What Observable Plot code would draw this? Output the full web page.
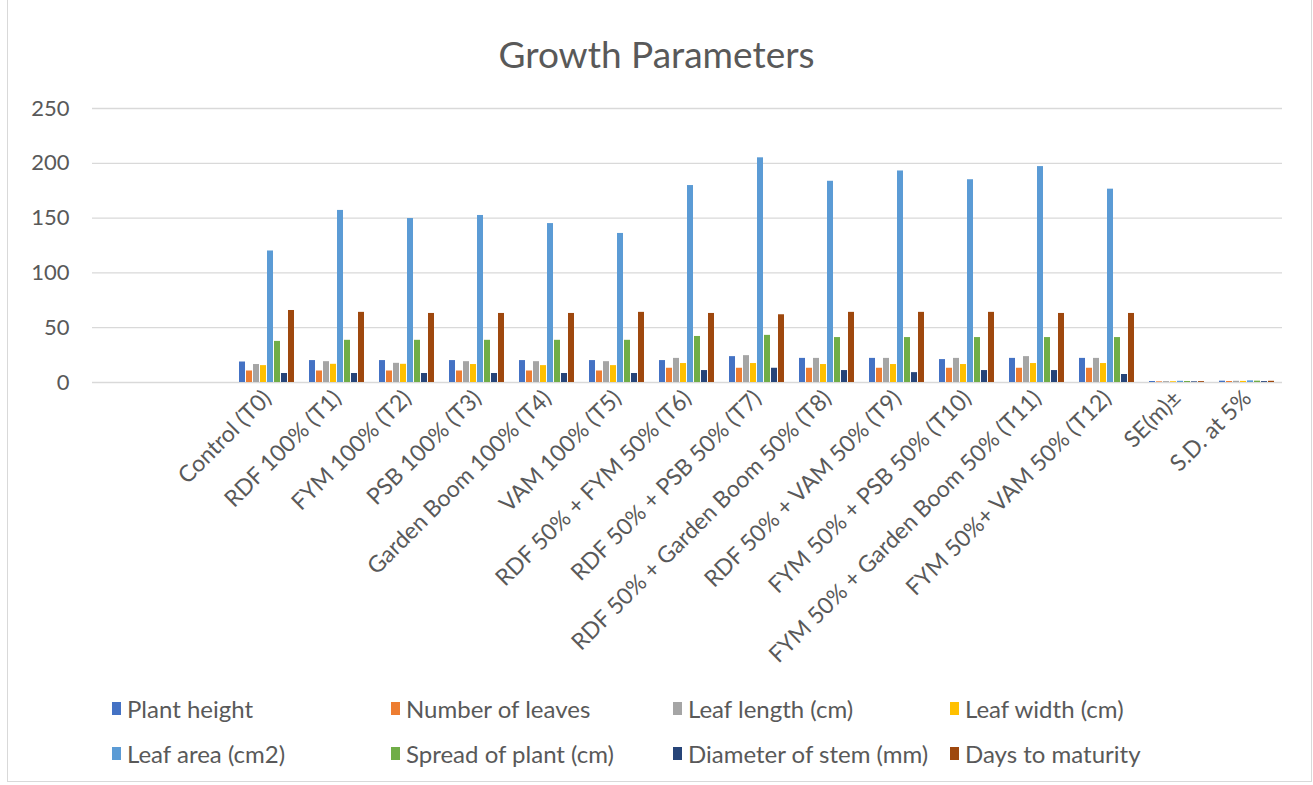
<!DOCTYPE html>
<html><head><meta charset="utf-8">
<script src="https://cdn.jsdelivr.net/npm/d3@7"></script>
<script src="https://cdn.jsdelivr.net/npm/@observablehq/plot@0.6"></script>
<style>
body{margin:0;background:#fff;font-family:Lato,"Open Sans",sans-serif;color:#595959}
#wrap{position:relative;width:1313px;height:785px;overflow:hidden}
#frame{position:absolute;left:7px;top:-2px;width:1305px;height:784px;border:1px solid #d9d9d9;box-sizing:border-box}
#title{position:absolute;left:0;width:1313px;top:32px;text-align:center;font-size:37px;color:#595959;line-height:44px}
#chart{position:absolute;left:0;top:90px}
#legend{position:absolute;left:112px;top:686px;display:grid;grid-template-columns:279px 282px 277px 279px;grid-auto-rows:45px;font-size:24px;color:#595959}
.item{display:flex;align-items:center;white-space:nowrap}
.sw{width:9px;height:13px;margin-right:6px;flex:none}
</style>
</head><body>
<div id="wrap">
<div id="frame"></div>
<div id="title">Growth Parameters</div>
<div id="chart"></div>
<div id="legend"></div>
</div>
<script>
// Categories (two empty slots precede the data, as in the reference)
const categories = ["_blank1","_blank2","Control (T0)","RDF 100% (T1)","FYM 100% (T2)","PSB 100% (T3)","Garden Boom 100% (T4)","VAM 100% (T5)","RDF 50% + FYM 50% (T6)","RDF 50% + PSB 50% (T7)","RDF 50% + Garden Boom 50% (T8)","RDF 50% + VAM 50% (T9)","FYM 50% + PSB 50% (T10)","FYM 50% + Garden Boom 50% (T11)","FYM 50%+ VAM 50% (T12)","SE(m)±","S.D. at 5%"];
const dataCategories = categories.slice(2);

const seriesNames = ["Plant height","Number of leaves","Leaf length (cm)","Leaf width (cm)","Leaf area (cm2)","Spread of plant (cm)","Diameter of stem (mm)","Days to maturity"];
const seriesColors = ["#4472C4","#ED7D31","#A5A5A5","#FFC000","#5B9BD5","#70AD47","#264478","#9E480E"];

const plantHeight   = [18.7,20,20,20,20,20,20,23.6,22,22,20.9,22,22,0.9,1.2];
const numberLeaves  = [10.5,10.5,10.5,10.5,10.5,10.5,13,13,13,13,13,13,13,0.6,0.9];
const leafLength    = [16.4,19,17.5,19,19,19,22,24.5,22,22,22,23.6,22,0.8,1.1];
const leafWidth     = [15.4,16.6,16.6,16.4,15.4,15.4,17.3,17.3,16.4,16.4,16.4,17.3,17.3,0.7,1.0];
const leafArea      = [120,157,149.6,152.4,145,136,179.7,205,183.6,193,185,197,176.4,1.1,1.5];
const spreadPlant   = [37.5,38.5,38.5,38.5,38.5,38.5,42,43,41,41,41,41,41,0.9,1.2];
const diameterStem  = [8.2,8.2,8.2,8.2,8.2,8.2,10.9,13,10.9,9,10.9,10.9,7.3,0.6,0.8];
const daysMaturity  = [65.7,64,63,63,63,64,63,61.8,64,64,64,63,63,0.8,1.1];

const yTicks = [0,50,100,150,200,250];

const seriesValues = [plantHeight,numberLeaves,leafLength,leafWidth,leafArea,spreadPlant,diameterStem,daysMaturity];
const rows = [];
dataCategories.forEach((c,i)=>{
  seriesNames.forEach((s,j)=>{
    rows.push({category:c, series:s, value:seriesValues[j][i]});
  });
});
// gridlines in every category slot (keeps the empty slots rendered)
const gridRows = categories.flatMap(c => yTicks.map(t => ({category:c, tick:t})));

const chart = Plot.plot({
  width:1313, height:596,
  marginTop:18, marginBottom:304, marginLeft:92, marginRight:31,
  style:{fontFamily:"Lato, 'Open Sans', sans-serif", color:"#595959", background:"transparent", overflow:"visible"},
  fx:{domain:categories, padding:0, label:null, axis:null},
  x:{domain:seriesNames, axis:null, paddingInner:0.12, paddingOuter:0.82},
  y:{domain:[0,250], label:null, axis:null},
  color:{domain:seriesNames, range:seriesColors},
  marks:[
    Plot.ruleY(gridRows,{fx:"category", y:"tick", stroke:"#d9d9d9", strokeWidth:1.3}),
    Plot.barY(rows,{fx:"category", x:"series", y:"value", fill:"series"}),
    Plot.axisY({ticks:yTicks, tickSize:0, tickPadding:23, fontSize:22, label:null, fill:"#595959"}),
    Plot.axisFx({anchor:"bottom", tickRotate:-45, tickSize:0, tickPadding:12, fontSize:23, label:null, fill:"#595959",
      tickFormat:d=>d.startsWith("_blank")?"":d})
  ]
});
document.getElementById("chart").appendChild(chart);

const legend = document.getElementById("legend");
seriesNames.forEach((s,i)=>{
  const it = document.createElement("div");
  it.className="item";
  const sw = document.createElement("span");
  sw.className="sw"; sw.style.background=seriesColors[i];
  const t = document.createElement("span");
  t.textContent=s;
  it.appendChild(sw); it.appendChild(t);
  legend.appendChild(it);
});
</script>
</body></html>
